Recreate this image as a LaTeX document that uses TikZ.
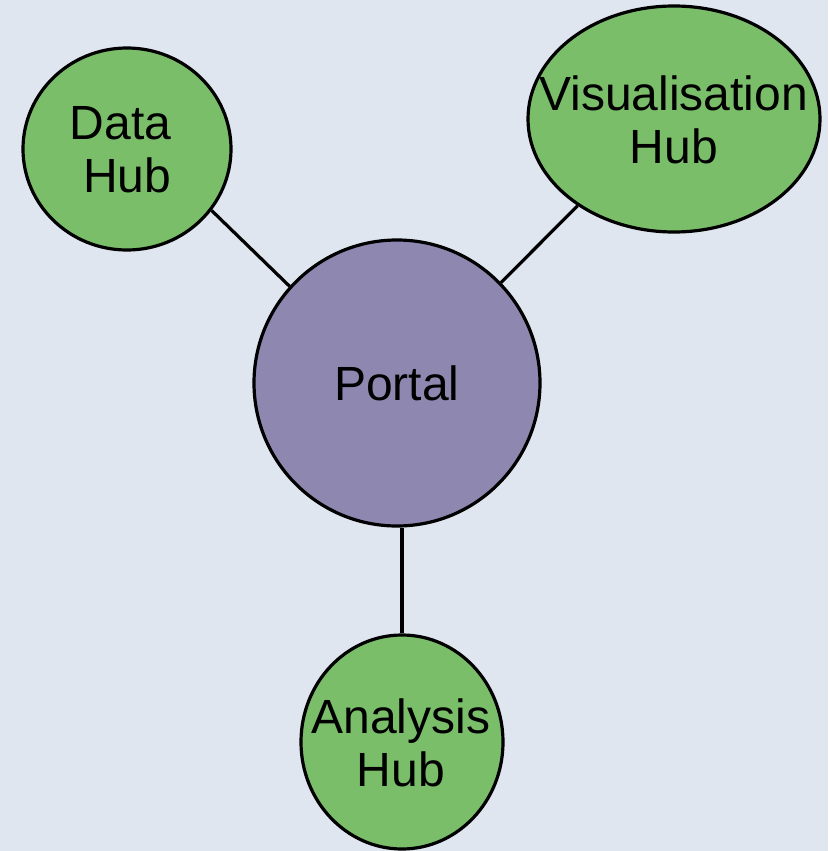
\documentclass[tikz,border=0pt]{standalone}
\usepackage{fontspec}
\setmainfont{Liberation Sans}
\usetikzlibrary{shapes.geometric}
\definecolor{bg}{HTML}{DFE6F0}
\definecolor{hubgreen}{HTML}{7BBE6A}
\definecolor{portalpurple}{HTML}{8E87B0}
\begin{document}
\begin{tikzpicture}[x=1pt,y=-1pt,
  hub/.style={ellipse,draw=black,line width=3.2pt,fill=hubgreen,inner sep=0pt},
  portal/.style={circle,draw=black,line width=3.2pt,fill=portalpurple,inner sep=0pt,minimum size=286pt},
  label/.style={align=center,inner sep=0pt,font=\fontsize{48}{53}\selectfont},
  link/.style={draw=black,line width=3.2pt}]
\fill[bg] (0,0) rectangle (828,851);
\useasboundingbox (0,0) rectangle (828,851);
\node[portal] (portal) at (397,383) {};
\node[label] (portaltxt) at (396.7,383) {Portal};
\node[hub,minimum width=208pt,minimum height=202pt] (data) at (127,149) {};
\node[label] (datatxt) at (127.3,149.7) {Data\hspace*{0.278em}\\Hub};
\node[hub,minimum width=292pt,minimum height=226pt] (vis) at (674,119) {};
\node[label] (vistxt) at (673.7,120) {Visualisation\\Hub};
\node[hub,minimum width=202pt,minimum height=214pt] (ana) at (402,742) {};
\node[label,anchor=north] (anatxt) at (400.8,698.5) {Analysis\\Hub};
\draw[link] (data.-36) -- (portal.138);
\draw[link] (vis.222) -- (portal.44);
\draw[link] (ana.north) -- (ana.north |- portal.south);
\end{tikzpicture}
\end{document}
